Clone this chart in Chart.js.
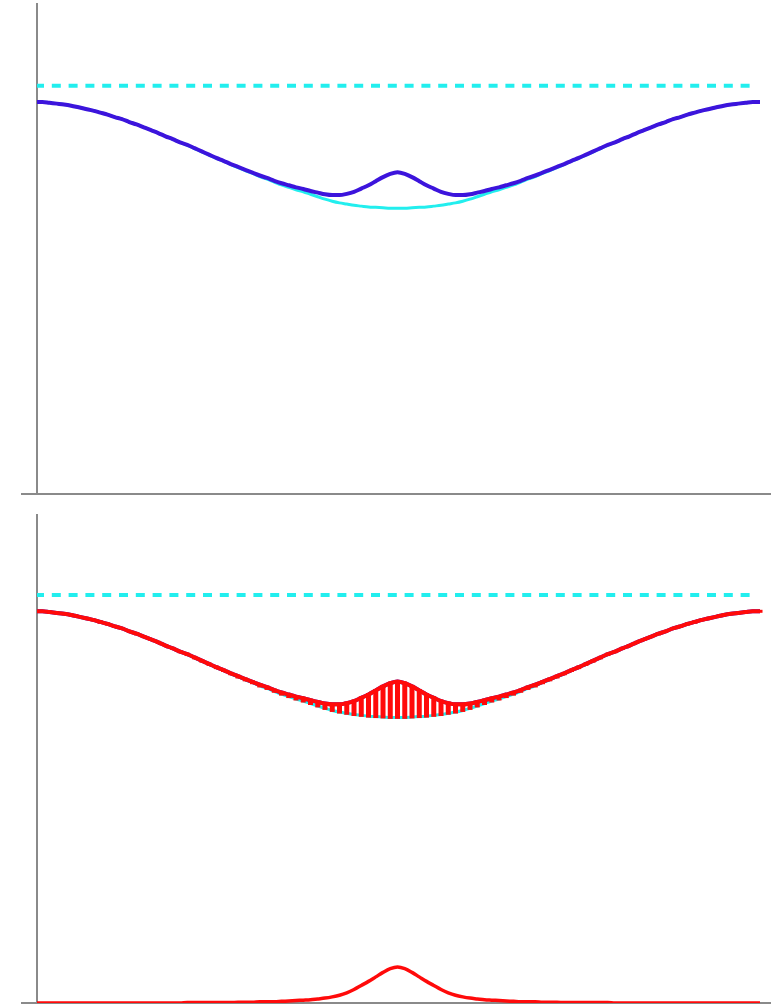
<!DOCTYPE html>
<html>
<head>
<meta charset="utf-8">
<script src="https://cdn.jsdelivr.net/npm/chart.js@4/dist/chart.umd.min.js"></script>
<style>
  html, body { margin: 0; padding: 0; background: #ffffff; width: 771px; height: 1004px; overflow: hidden; }
  canvas { position: absolute; left: 0; }
  #upper { top: 0; }
  #lower { top: 505px; }
</style>
</head>
<body>
<canvas id="upper" width="771" height="500"></canvas>
<canvas id="lower" width="771" height="499"></canvas>
<script>
// Sample positions across the well
const positions = [
  -1.00, -0.98, -0.96, -0.94, -0.92, -0.90, -0.88, -0.86, -0.84, -0.82,
  -0.80, -0.78, -0.76, -0.74, -0.72, -0.70, -0.68, -0.66, -0.64, -0.62,
  -0.60, -0.58, -0.56, -0.54, -0.52, -0.50, -0.48, -0.46, -0.44, -0.42,
  -0.40, -0.38, -0.36, -0.34, -0.32, -0.30, -0.28, -0.26, -0.24, -0.22,
  -0.20, -0.18, -0.16, -0.14, -0.12, -0.10, -0.08, -0.06, -0.04, -0.02,
   0.00,
   0.02,  0.04,  0.06,  0.08,  0.10,  0.12,  0.14,  0.16,  0.18,  0.20,
   0.22,  0.24,  0.26,  0.28,  0.30,  0.32,  0.34,  0.36,  0.38,  0.40,
   0.42,  0.44,  0.46,  0.48,  0.50,  0.52,  0.54,  0.56,  0.58,  0.60,
   0.62,  0.64,  0.66,  0.68,  0.70,  0.72,  0.74,  0.76,  0.78,  0.80,
   0.82,  0.84,  0.86,  0.88,  0.90,  0.92,  0.94,  0.96,  0.98,  1.00
];

// Potential well (cyan curve)
const potential = [
  0.960, 0.960, 0.958, 0.956, 0.954, 0.951, 0.947, 0.943, 0.939, 0.934,
  0.929, 0.923, 0.918, 0.911, 0.905, 0.898, 0.891, 0.884, 0.876, 0.869,
  0.861, 0.854, 0.846, 0.838, 0.830, 0.822, 0.815, 0.807, 0.799, 0.792,
  0.785, 0.777, 0.771, 0.764, 0.757, 0.751, 0.745, 0.740, 0.734, 0.728,
  0.722, 0.717, 0.713, 0.710, 0.707, 0.705, 0.703, 0.702, 0.701, 0.700,
  0.700,
  0.700, 0.701, 0.702, 0.703, 0.705, 0.707, 0.710, 0.713, 0.717, 0.722,
  0.728, 0.734, 0.740, 0.745, 0.751, 0.757, 0.764, 0.771, 0.777, 0.785,
  0.792, 0.799, 0.807, 0.815, 0.822, 0.830, 0.838, 0.846, 0.854, 0.861,
  0.869, 0.876, 0.884, 0.891, 0.898, 0.905, 0.911, 0.918, 0.923, 0.929,
  0.934, 0.939, 0.943, 0.947, 0.951, 0.954, 0.956, 0.958, 0.960, 0.960
];

// Localized density peak (bottom red curve, and the raise of the blue curve)
const density = [
  0, 0, 0, 0, 0, 0, 0, 0, 0, 0,
  0, 0, 0, 0, 0, 0, 0, 0, 0, 0,
  0, 0.001, 0.001, 0.001, 0.001, 0.001, 0.001, 0.001, 0.002, 0.002,
  0.002, 0.003, 0.003, 0.003, 0.004, 0.005, 0.006, 0.007, 0.008, 0.010,
  0.012, 0.015, 0.019, 0.025, 0.033, 0.043, 0.053, 0.064, 0.075, 0.084,
  0.088,
  0.084, 0.075, 0.064, 0.053, 0.043, 0.033, 0.025, 0.019, 0.015, 0.012,
  0.010, 0.008, 0.007, 0.006, 0.005, 0.004, 0.003, 0.003, 0.003, 0.002,
  0.002, 0.002, 0.001, 0.001, 0.001, 0.001, 0.001, 0.001, 0.001, 0,
  0, 0, 0, 0, 0, 0, 0, 0, 0, 0,
  0, 0, 0, 0, 0, 0, 0, 0, 0, 0
];

// Energy level (dashed line) and its extent
const energyLevel = 1.0;
const levelSpan = [-1.0, 0.972];

const AXIS = '#8a8a8a';
const CYAN = '#22eeee';
const BLUE = '#3c14dc';
const RED = '#ff0a0a';

const pts = (vals) => positions.map((x, i) => ({ x: x, y: vals[i] }));
const combined = potential.map((v, i) => v + density[i]);
const levelPts = levelSpan.map(x => ({ x: x, y: energyLevel }));
const stems = positions.map((x, i) => ({ x: x, y: [potential[i], combined[i]] }));

function lineSet(data, color, width, order, extra) {
  return Object.assign({
    type: 'line', data: data, borderColor: color, borderWidth: width,
    pointRadius: 0, fill: false, cubicInterpolationMode: 'monotone',
    borderCapStyle: 'butt', order: order
  }, extra || {});
}

function build(canvasId, datasets, yMax, padTop, padBottom) {
  return new Chart(document.getElementById(canvasId), {
    type: 'line',
    data: { datasets: datasets },
    options: {
      responsive: false,
      devicePixelRatio: 1,
      animation: false,
      events: [],
      layout: { padding: { left: 21, right: 0, top: padTop, bottom: padBottom } },
      plugins: { legend: { display: false }, tooltip: { enabled: false }, title: { display: false } },
      scales: {
        x: {
          type: 'linear', min: -0.9945, max: 1.0303, offset: false,
          grid: { display: false, drawTicks: false, offset: false },
          ticks: { display: false },
          border: { display: true, color: AXIS, width: 2 }
        },
        y: {
          type: 'linear', min: 0, max: yMax,
          grid: {
            display: true, drawOnChartArea: false, drawTicks: true, tickLength: 16, lineWidth: 2,
            color: (c) => (c.tick && c.tick.value === 0) ? AXIS : 'rgba(0,0,0,0)'
          },
          ticks: { display: false },
          border: { display: true, color: AXIS, width: 2 }
        }
      }
    }
  });
}

// Upper panel: potential and potential plus density
build('upper', [
  lineSet(levelPts, CYAN, 4, 3, { borderDash: [9, 7.8], cubicInterpolationMode: 'default', tension: 0 }),
  lineSet(pts(potential), CYAN, 3, 2),
  lineSet(pts(combined), BLUE, 4, 1)
], 1.2, 4, 6);

// Lower panel: same curves joined by stems, and the density itself
build('lower', [
  lineSet(levelPts, CYAN, 4, 6, { borderDash: [9, 7.8], cubicInterpolationMode: 'default', tension: 0 }),
  lineSet(pts(potential), CYAN, 3, 5),
  lineSet(pts(combined), BLUE, 4, 4),
  { type: 'bar', data: stems, backgroundColor: RED, borderWidth: 0, barThickness: 2, inflateAmount: 1.5, order: 3 },
  lineSet(pts(combined), RED, 4, 2),
  lineSet(pts(density), RED, 3.5, 1)
], 1.196, 10, 1);
</script>
</body>
</html>
